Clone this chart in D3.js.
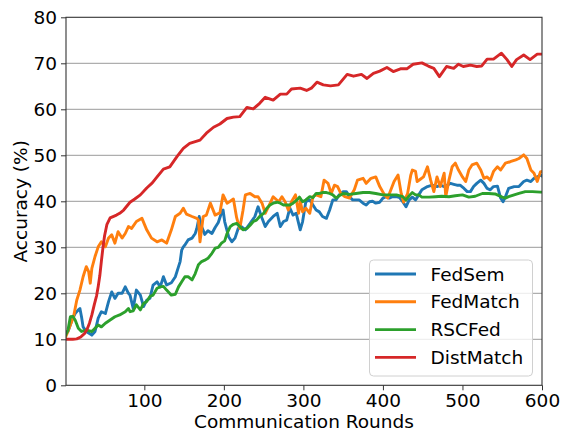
<!DOCTYPE html>
<html><head><meta charset="utf-8">
<script src="https://cdn.jsdelivr.net/npm/d3@7"></script>
<style>body{margin:0;background:#fff}svg{display:block}</style>
</head><body>
<script>
const seriesNames = ["FedSem","FedMatch","RSCFed","DistMatch"];
const seriesColors = ["#1f77b4","#ff7f0e","#2ca02c","#d62728"];
const yTicks = [0,10,20,30,40,50,60,70,80];
const xTicks = [100,200,300,400,500,600];

const fedSem = [[1,11.2],[4,11.7],[9,14.2],[13,15.6],[17,16.4],[19,16.7],[21,14.9],[23,12.7],[27,11.7],[34,10.9],[38,11.7],[42,14.6],[46,16],[51,15.6],[55,18.2],[59,20.3],[63,18.9],[67,20],[72,20],[76,21.4],[80,20],[82,19.6],[86,16.7],[90,20.7],[95,19.6],[99,17.1],[103,18.5],[107,18.9],[111,21.8],[116,22.5],[120,21.4],[124,23.6],[128,21.8],[134,22.3],[139,23.6],[143,25.8],[145,26.9],[147,29.4],[149,30.1],[151,30.5],[155,31.6],[160,32],[164,33],[166,34.1],[169,36.7],[172,34.5],[176,32.8],[180,33.6],[185,33],[189,34.3],[193,35.4],[197,37.5],[199,38.1],[201,35.6],[206,32.3],[210,31.2],[214,32],[218,34.1],[222,34.5],[227,33.8],[233,35.2],[239,36.7],[243,38.8],[248,36.3],[252,34.5],[256,35.6],[262,36.7],[267,37.4],[271,34.5],[275,35.6],[279,35.9],[283,38.5],[287,37],[291,37.4],[293,35.9],[296,33.8],[299,35.6],[303,39.9],[308,40.3],[312,39.2],[316,38.1],[320,37.7],[324,36.7],[329,36.3],[333,38.1],[337,40.3],[341,40.3],[345,41.4],[350,42.1],[354,42.1],[358,41],[362,40.3],[370,40.3],[375,39.6],[379,39.2],[383,39.9],[387,40],[391,39.6],[396,39.8],[400,40.7],[404,41],[408,40.7],[412,41],[417,41],[421,40.8],[425,39.9],[429,38.8],[433,40.3],[437,40.9],[441,40.3],[445,41.4],[449,42.5],[456,43.2],[462,43.5],[468,43.2],[472,43.5],[477,43.2],[481,43.5],[485,43.9],[489,43.7],[493,43.5],[497,43.5],[502,42.8],[506,42.1],[510,42.1],[514,43.2],[518,43.9],[523,44.6],[527,43.9],[531,42.8],[535,42.5],[539,43.2],[544,43.3],[548,40.7],[551,39.9],[554,41],[558,42.8],[565,43.2],[571,43.2],[577,44.3],[581,44.6],[586,44.3],[590,45],[594,45.3],[598,45.7],[600,45.5]];

const fedMatch = [[1,10.5],[2,10.9],[6,12.7],[11,14.9],[15,18.5],[19,20.7],[23,23.6],[27,25.8],[30,24.7],[32,22.2],[34,25.4],[38,28],[42,30.1],[46,31.2],[51,30.1],[55,32],[59,32.7],[63,30.9],[67,33.4],[72,32],[76,33],[80,34.5],[84,34.1],[90,35.6],[97,36.3],[103,33.8],[109,32],[116,31.2],[122,31.6],[128,30.9],[134,33.8],[139,36.7],[145,37.4],[149,38.5],[153,37.2],[160,36.7],[166,36.3],[168,35.9],[170,31.2],[174,36.7],[178,37],[183,39.6],[189,37],[195,37.5],[199,41.4],[204,39.6],[208,40],[212,40.5],[216,36.5],[218,35.2],[220,34.1],[224,38],[227,41.4],[233,41.7],[239,41],[243,41],[248,39.6],[252,37.4],[256,38.8],[262,41],[269,39.9],[273,41],[277,39.9],[281,38.1],[285,39.9],[290,41.4],[294,37.4],[296,40],[299,37.7],[303,38.5],[308,37.4],[312,41],[316,41.4],[322,41],[326,44.6],[331,43.9],[335,41.7],[339,43.5],[343,43.2],[347,41.7],[352,41],[358,40.7],[364,42.5],[368,44.6],[375,45],[379,43.9],[385,45],[391,45.3],[396,43.2],[402,41.4],[406,40.7],[410,42.5],[414,44.3],[419,45.7],[423,41.7],[426,39.8],[431,41.7],[435,45.7],[437,46.8],[441,46.5],[443,44.3],[447,44.8],[451,45.3],[456,47.5],[460,44.6],[464,42.1],[468,45.3],[472,43.2],[477,46.1],[479,41],[483,44.6],[487,47.5],[491,48.3],[495,46.8],[500,45.3],[504,44.3],[508,46.8],[512,47.9],[518,48.3],[523,46.8],[527,45],[531,45.3],[535,44.6],[539,46.5],[544,47.5],[548,46.8],[554,48.3],[560,48.6],[567,49],[571,49.3],[577,50.1],[581,49.3],[586,46.8],[590,46.1],[594,44.3],[598,46.4],[600,46.5]];

const rscFed = [[1,10.9],[4,12],[7,14.9],[10,15],[13,14.2],[17,12.4],[21,11.7],[27,12],[34,11.7],[38,12.4],[42,13.1],[46,12.7],[51,13.5],[57,14.2],[63,14.9],[69,15.3],[76,16],[80,16.7],[82,16],[86,16.2],[90,17.5],[95,16.4],[99,17.8],[103,18.2],[107,19.3],[111,19.6],[116,21.1],[120,21.4],[124,21.5],[128,20.7],[134,19.6],[139,19.8],[143,21.4],[147,22.5],[151,23.6],[155,23.6],[160,22.9],[164,24.3],[168,26.2],[172,26.9],[176,27.2],[180,27.6],[185,28.7],[189,29.8],[193,30],[197,30.9],[201,31.4],[204,33],[208,34.5],[212,35],[216,35.2],[220,34.5],[224,33.8],[229,34.1],[233,34.8],[237,35.6],[241,35.9],[245,36.7],[250,37.4],[254,38.5],[258,39.2],[262,39.6],[267,39.8],[271,39.6],[275,39.2],[279,39.2],[283,39.2],[287,39.6],[292,40.3],[295,40.9],[299,39.9],[303,40.3],[308,41],[312,40.8],[316,41.7],[320,41.7],[324,41.9],[329,41.9],[333,41.7],[337,41.4],[341,40.7],[345,41.2],[350,41.7],[358,41.5],[366,41.7],[375,41.9],[383,41.9],[391,41.7],[400,41.4],[408,41.4],[417,41.4],[425,41],[429,40.3],[433,41.2],[437,41.9],[441,41.4],[445,41.4],[449,40.9],[458,40.9],[466,41],[474,41.1],[483,41],[491,41.2],[500,41.4],[508,40.9],[516,41.1],[525,41.7],[533,41.7],[541,41.6],[550,40.9],[554,40.7],[558,41],[565,41.4],[571,41.7],[579,42.1],[588,42.1],[598,42],[600,42]];

const distMatch = [[1,10],[10,10],[15,10.1],[20,10.5],[25,11.3],[28,12.2],[31,13.5],[34,15.3],[37,17.5],[40,19.5],[42,21.5],[44,23.8],[46,27],[48,30],[50,32.5],[53,35],[57,36.4],[65,37],[69,37.4],[74,38.1],[82,39.8],[88,40.5],[95,41.4],[103,42.9],[110,44],[116,45.3],[124,47],[132,47.5],[141,49.7],[149,51.5],[157,52.6],[170,53.3],[178,54.8],[187,56.1],[195,56.8],[204,58],[212,58.3],[220,58.4],[229,60.4],[237,60.1],[245,61.3],[252,62.6],[262,62],[271,63.3],[279,63.3],[285,64.4],[296,64.6],[304,64.1],[310,64.6],[317,65.9],[325,65.3],[334,65.1],[344,65.3],[355,67.6],[363,67.2],[373,67.6],[380,66.7],[388,67.8],[396,68.3],[405,69.1],[413,68.2],[422,68.8],[430,68.8],[438,69.8],[449,70.1],[457,69.4],[464,68.9],[471,67.1],[480,69.3],[489,68.9],[495,69.8],[501,69.3],[510,69.6],[518,69.3],[524,69.4],[531,70.9],[539,70.9],[549,72.2],[556,70.8],[562,69.3],[568,70.8],[577,71.8],[585,70.8],[594,72],[600,72]];

const allSeries = [fedSem, fedMatch, rscFed, distMatch];

const W = 561, H = 431;
const m = {left:66, right:19, top:17.3, bottom:45.7};
const svg = d3.select("body").append("svg").attr("width",W).attr("height",H)
  .style("font-family","'DejaVu Sans', sans-serif");

const x = d3.scaleLinear().domain([1.5,600]).range([m.left, W-m.right]);
const y = d3.scaleLinear().domain([0,80]).range([H-m.bottom, m.top]);

// grid
svg.append("g").selectAll("line").data(yTicks.filter(d=>d>0&&d<80)).join("line")
  .attr("x1",m.left).attr("x2",W-m.right)
  .attr("y1",d=>y(d)).attr("y2",d=>y(d))
  .attr("stroke","#9a9a9a").attr("stroke-width",1);

svg.append("clipPath").attr("id","clip").append("rect")
  .attr("x",m.left).attr("y",m.top).attr("width",W-m.left-m.right).attr("height",H-m.top-m.bottom);

const line = d3.line().x(d=>x(d[0])).y(d=>y(d[1]));
const gl = svg.append("g").attr("clip-path","url(#clip)");
allSeries.forEach((s,i)=>{
  gl.append("path").datum(s).attr("d",line).attr("fill","none")
    .attr("stroke",seriesColors[i]).attr("stroke-width",2.9)
    .attr("stroke-linejoin","round").attr("stroke-linecap","square");
});

// axes
const ax = svg.append("g").attr("transform",`translate(0,${H-m.bottom})`)
  .call(d3.axisBottom(x).tickValues(xTicks).tickSize(5).tickPadding(4).tickSizeOuter(0));
const ay = svg.append("g").attr("transform",`translate(${m.left},0)`)
  .call(d3.axisLeft(y).tickValues(yTicks).tickSize(5).tickPadding(4).tickSizeOuter(0));
[ax,ay].forEach(a=>{
  a.select(".domain").remove();
  a.selectAll("text").attr("font-size","18.5px").attr("fill","#000").attr("font-family","'DejaVu Sans', sans-serif");
  a.selectAll("line").attr("stroke","#333").attr("stroke-width",1);
});

// frame
svg.append("rect").attr("x",m.left).attr("y",m.top)
  .attr("width",W-m.left-m.right).attr("height",H-m.top-m.bottom)
  .attr("fill","none").attr("stroke","#333").attr("stroke-width",1.1);

// labels
svg.append("text").attr("x",(m.left+W-m.right)/2).attr("y",428)
  .attr("text-anchor","middle").attr("font-size","18.5px").text("Communication Rounds");
svg.append("text").attr("transform",`translate(27,${(m.top+H-m.bottom)/2}) rotate(-90)`)
  .attr("text-anchor","middle").attr("font-size","18.5px").text("Accuracy (%)");

// legend
const lg = svg.append("g");
lg.append("rect").attr("x",369.5).attr("y",260).attr("width",163).attr("height",116)
  .attr("rx",4).attr("fill","#fff").attr("fill-opacity",0.8).attr("stroke","#d0d0d0").attr("stroke-width",1);
seriesNames.forEach((n,i)=>{
  const yy = 274 + i*27.8;
  lg.append("line").attr("x1",375).attr("x2",416).attr("y1",yy).attr("y2",yy)
    .attr("stroke",seriesColors[i]).attr("stroke-width",2.9);
  lg.append("text").attr("x",430.5).attr("y",yy).attr("dy","0.36em")
    .attr("font-size","18.5px").text(n);
});
</script>
</body></html>
